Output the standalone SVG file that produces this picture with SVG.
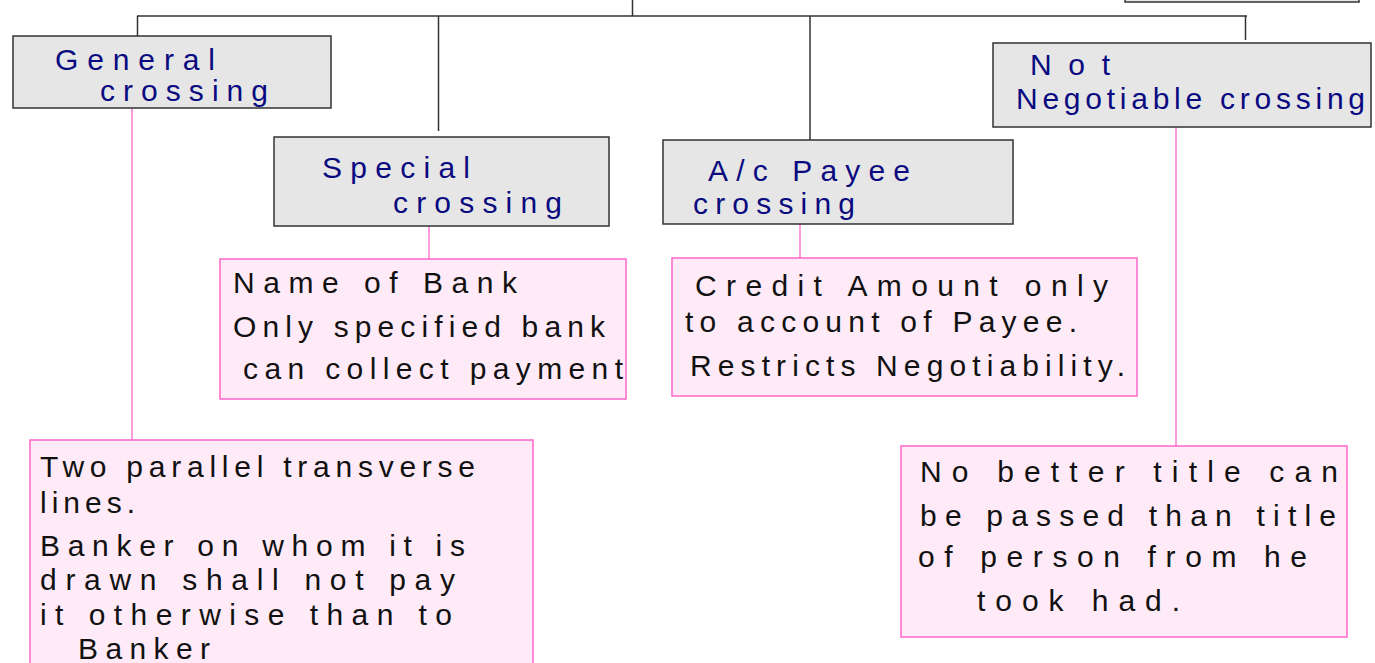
<svg xmlns="http://www.w3.org/2000/svg" width="1375" height="663" viewBox="0 0 1375 663">
<style>
.gbox{fill:#e6e6e6;stroke:#333;stroke-width:1.5}
.pbox{fill:#ffebf7;stroke:#ff66cc;stroke-width:1.5}
.edge{stroke:#333;stroke-width:1.5;fill:none}
.pedge{stroke:#ff66cc;stroke-width:1.3;fill:none}
.title{font-family:"Liberation Sans","DejaVu Sans",sans-serif;font-size:30px;fill:#0a0a80}
.body{font-family:"Liberation Sans","DejaVu Sans",sans-serif;font-size:30px;fill:#111}
</style>
<rect width="1375" height="663" fill="#ffffff"/>
<g id="connectors">
<line class="edge" x1="632.5" y1="0" x2="632.5" y2="16"/>
<line class="edge" x1="137" y1="16" x2="1247" y2="16"/>
<line class="edge" x1="137.5" y1="16" x2="137.5" y2="39"/>
<line class="edge" x1="438.5" y1="16" x2="438.5" y2="131"/>
<line class="edge" x1="810" y1="16" x2="810" y2="140"/>
<line class="edge" x1="1245.5" y1="16" x2="1245.5" y2="40"/>
<line class="pedge" x1="132" y1="108" x2="132" y2="440"/>
<line class="pedge" x1="429" y1="226" x2="429" y2="259"/>
<line class="pedge" x1="800" y1="224" x2="800" y2="258"/>
<line class="pedge" x1="1176" y1="127" x2="1176" y2="446"/>
</g>
<g id="node-top">
<rect class="gbox" x="1125" y="-10" width="234" height="12"/>
</g>
<g id="node-general">
<rect class="gbox" x="13" y="36" width="318" height="72"/>
<text class="title" x="55" y="70" textLength="160" lengthAdjust="spacing">General</text>
<text class="title" x="100" y="101" textLength="168" lengthAdjust="spacing">crossing</text>
</g>
<g id="node-special">
<rect class="gbox" x="274" y="137" width="335" height="89"/>
<text class="title" x="322" y="178" textLength="148" lengthAdjust="spacing">Special</text>
<text class="title" x="393" y="213" textLength="169" lengthAdjust="spacing">crossing</text>
</g>
<g id="node-payee">
<rect class="gbox" x="663" y="140" width="350" height="84"/>
<text class="title" x="708" y="181" textLength="202" lengthAdjust="spacing">A/c Payee</text>
<text class="title" x="693" y="214" textLength="162" lengthAdjust="spacing">crossing</text>
</g>
<g id="node-notneg">
<rect class="gbox" x="993" y="43" width="378" height="84"/>
<text class="title" x="1030" y="75" textLength="80" lengthAdjust="spacing">Not</text>
<text class="title" x="1016" y="109" textLength="349" lengthAdjust="spacing">Negotiable crossing</text>
</g>
<g id="note-special">
<rect class="pbox" x="220" y="259" width="406" height="140"/>
<text class="body" x="233" y="293" textLength="284" lengthAdjust="spacing">Name of Bank</text>
<text class="body" x="233" y="337" textLength="372" lengthAdjust="spacing">Only specified bank</text>
<text class="body" x="243" y="379" textLength="380" lengthAdjust="spacing">can collect payment</text>
</g>
<g id="note-payee">
<rect class="pbox" x="672" y="258" width="465" height="138"/>
<text class="body" x="695" y="296" textLength="413" lengthAdjust="spacing">Credit Amount only</text>
<text class="body" x="685" y="332" textLength="392" lengthAdjust="spacing">to account of Payee.</text>
<text class="body" x="690" y="376" textLength="435" lengthAdjust="spacing">Restricts Negotiability.</text>
</g>
<g id="note-general">
<rect class="pbox" x="30" y="440" width="503" height="240"/>
<text class="body" x="40" y="477" textLength="435" lengthAdjust="spacing">Two parallel transverse</text>
<text class="body" x="40" y="513" textLength="95" lengthAdjust="spacing">lines.</text>
<text class="body" x="40" y="556" textLength="425" lengthAdjust="spacing">Banker on whom it is</text>
<text class="body" x="40" y="590" textLength="415" lengthAdjust="spacing">drawn shall not pay</text>
<text class="body" x="40" y="625" textLength="412" lengthAdjust="spacing">it otherwise than to</text>
<text class="body" x="78" y="659" textLength="132" lengthAdjust="spacing">Banker</text>
</g>
<g id="note-notneg">
<rect class="pbox" x="901" y="446" width="446" height="191"/>
<text class="body" x="920" y="482" textLength="418" lengthAdjust="spacing">No better title can</text>
<text class="body" x="920" y="526" textLength="416" lengthAdjust="spacing">be passed than title</text>
<text class="body" x="918" y="567" textLength="389" lengthAdjust="spacing">of person from he</text>
<text class="body" x="977" y="611" textLength="203" lengthAdjust="spacing">took had.</text>
</g>
</svg>
